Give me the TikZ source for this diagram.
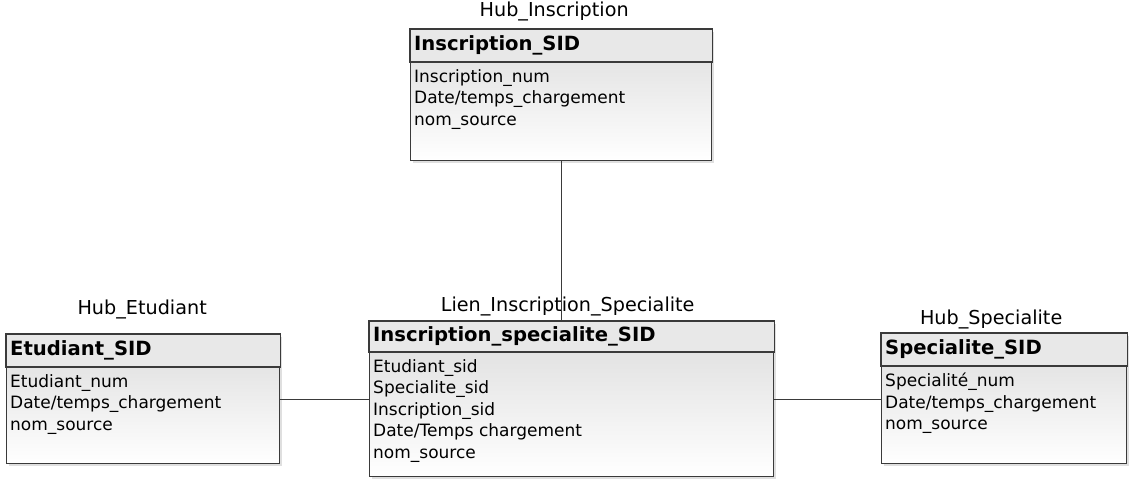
\documentclass[tikz,border=0pt]{standalone}
\usepackage{fontspec}
\setmainfont{DejaVu Sans}
\usetikzlibrary{positioning,shadows}
\definecolor{edgegray}{HTML}{3A3A3A}
\definecolor{headgray}{HTML}{E8E8E8}
\definecolor{bodygray}{HTML}{DCDCDC}
\tikzset
{
    entity/.style = {rectangle, draw=edgegray, line width=1.3pt, anchor=north west, inner sep=0pt,
                     top color=bodygray, bottom color=white,
                     drop shadow={shadow xshift=2.5pt, shadow yshift=-2.5pt, opacity=0.25}},
    headrow/.style  = {fill=headgray, draw=edgegray, line width=1.3pt},
    title/.style    = {anchor=west, inner sep=0pt, font=\fontsize{19.6}{23}\selectfont\bfseries},
    fields/.style   = {anchor=north west, inner sep=0pt, align=left, font=\fontsize{17}{21.5}\selectfont},
    hublabel/.style = {inner sep=0pt, font=\fontsize{19.2}{22}\selectfont},
    link/.style     = {draw=edgegray, line width=1.1pt}
}
\begin{document}
\begin{tikzpicture}[x=1pt, y=-1pt]
	\useasboundingbox (0,0) rectangle (1135,486);

	% boxes
	\node (insc) [entity, minimum width=301, minimum height=131] at (410,29) {};
	\node (etud) [entity, minimum width=273, minimum height=129] at (6,334) {};
	\node (lien) [entity, minimum width=404, minimum height=155] at (369,321) {};
	\node (spec) [entity, minimum width=245, minimum height=130] at (881,333) {};

	% header rows
	\draw [headrow] (insc.north west) rectangle ([yshift=-33pt]insc.north east);
	\draw [headrow] (etud.north west) rectangle ([yshift=-33pt]etud.north east);
	\draw [headrow] (lien.north west) rectangle ([yshift=-31pt]lien.north east);
	\draw [headrow] (spec.north west) rectangle ([yshift=-33pt]spec.north east);

	% titles
	\node (inscT) [title] at ([xshift=4pt, yshift=-16.5pt]insc.north west) {Inscription\_SID};
	\node (etudT) [title] at ([xshift=4pt, yshift=-16.5pt]etud.north west) {Etudiant\_SID};
	\node (lienT) [title] at ([xshift=4pt, yshift=-15.5pt]lien.north west) {Inscription\_specialite\_SID};
	\node (specT) [title] at ([xshift=4pt, yshift=-16.5pt]spec.north west) {Specialite\_SID};

	% attributes
	\node (inscF) [fields] at ([xshift=4pt, yshift=-40pt]insc.north west) {Inscription\_num\\Date/temps\_chargement\\nom\_source};
	\node (etudF) [fields] at ([xshift=4pt, yshift=-40pt]etud.north west) {Etudiant\_num\\Date/temps\_chargement\\nom\_source};
	\node (lienF) [fields] at ([xshift=4pt, yshift=-38pt]lien.north west) {Etudiant\_sid\\Specialite\_sid\\Inscription\_sid\\Date/Temps chargement\\nom\_source};
	\node (specF) [fields] at ([xshift=4pt, yshift=-40pt]spec.north west) {Specialité\_num\\Date/temps\_chargement\\nom\_source};

	% labels above the boxes
	\node (inscL) [hublabel, above=8pt of insc, xshift=-7pt] {Hub\_Inscription};
	\node (etudL) [hublabel, above=15pt of etud, xshift=-1pt] {Hub\_Etudiant};
	\node (lienL) [hublabel, above=5pt of lien, xshift=-4pt] {Lien\_Inscription\_Specialite};
	\node (specL) [hublabel, above=4pt of spec, xshift=-13pt] {Hub\_Specialite};

	% links
	\draw [link] (insc.south) -- (insc.south |- lien.north);
	\draw [link] (etud.east) -- (etud.east -| lien.west);
	\draw [link] (lien.east) -- (lien.east -| spec.west);
\end{tikzpicture}
\end{document}
